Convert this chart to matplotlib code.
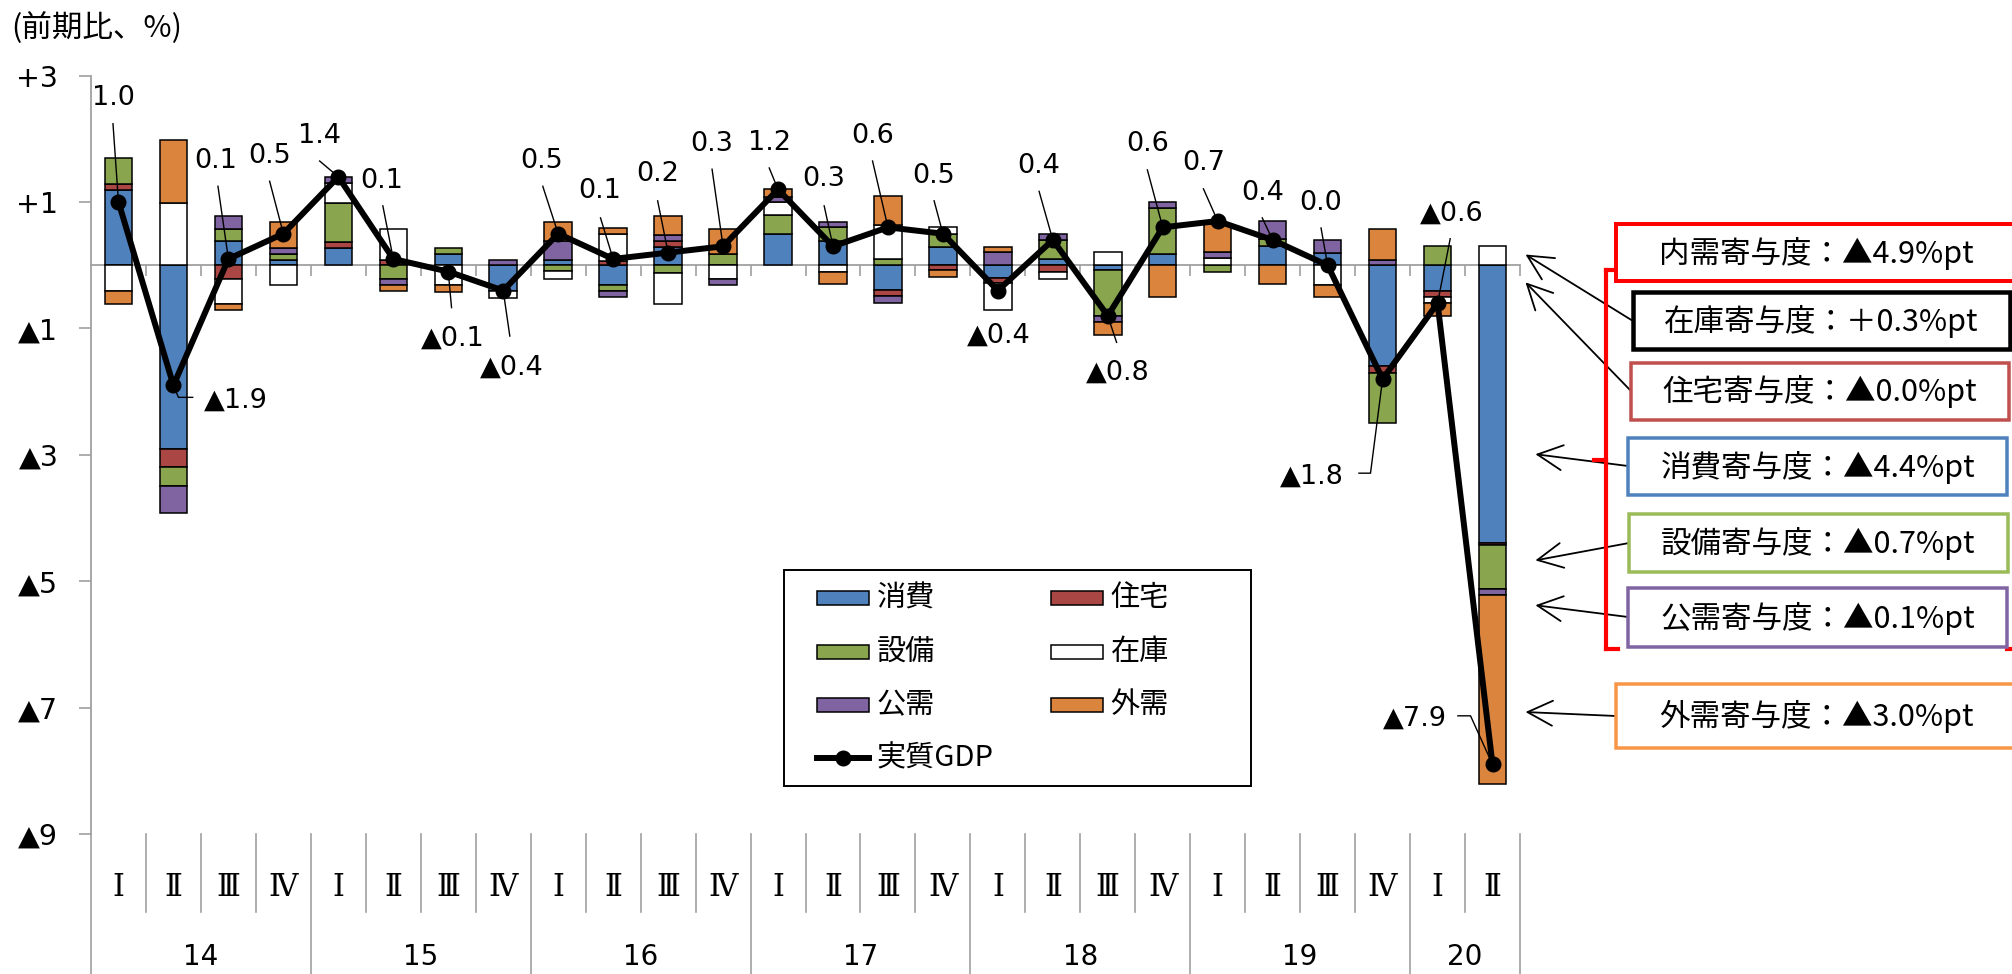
import numpy as np
import matplotlib.pyplot as plt
from matplotlib.patches import Rectangle
from matplotlib.lines import Line2D
from matplotlib.transforms import blended_transform_factory

plt.rcParams['font.family'] = ['DejaVu Sans', 'Noto Sans CJK JP']
JP = ['Noto Sans CJK JP', 'DejaVu Sans']

W, H = 2012, 974

# ---- data (前期比寄与度, %pt) ----
quarter_labels = ['Ⅰ', 'Ⅱ', 'Ⅲ', 'Ⅳ'] * 6 + ['Ⅰ', 'Ⅱ']
years = ['14', '15', '16', '17', '18', '19', '20']
year_quarters = [4, 4, 4, 4, 4, 4, 2]

consumption = [1.19, -2.90, 0.39, 0.09, 0.28, 0.00, 0.18, -0.40, 0.08, -0.31, 0.29, 0.00, 0.49,
               0.39, -0.39, 0.29, -0.20, 0.10, -0.08, 0.18, 0.00, 0.30, 0.19, -1.60, -0.40, -4.40]
housing = [0.09, -0.30, -0.21, 0.00, 0.09, 0.08, 0.00, 0.00, 0.00, 0.06, 0.09, 0.00, 0.00,
           0.00, -0.10, -0.08, -0.08, -0.10, 0.00, 0.00, 0.00, 0.00, 0.00, -0.10, -0.10, -0.02]
capex = [0.41, -0.30, 0.18, 0.09, 0.62, -0.22, 0.10, 0.00, -0.09, -0.09, -0.12, 0.18, 0.30,
         0.21, 0.10, 0.21, 0.00, 0.30, -0.72, 0.73, -0.10, 0.12, 0.00, -0.80, 0.30, -0.70]
inventory = [-0.41, 0.99, -0.41, -0.32, 0.31, 0.50, -0.32, -0.12, -0.13, 0.43, -0.50, -0.22, 0.21,
             -0.10, 0.53, 0.10, -0.42, -0.12, 0.21, 0.00, 0.12, 0.00, -0.32, 0.00, -0.10, 0.30]
public = [0.00, -0.42, 0.21, 0.09, 0.10, -0.09, 0.00, 0.08, 0.30, -0.10, 0.10, -0.09, 0.08,
          0.09, -0.10, 0.00, 0.21, 0.10, -0.10, 0.09, 0.09, 0.28, 0.21, 0.08, 0.00, -0.10]
external = [-0.21, 1.00, -0.09, 0.41, 0.00, -0.10, -0.10, 0.00, 0.30, 0.10, 0.30, 0.40, 0.12,
            -0.20, 0.47, -0.10, 0.08, 0.00, -0.20, -0.50, 0.45, -0.30, -0.18, 0.50, -0.21, -2.99]
gdp = [1.0, -1.9, 0.1, 0.5, 1.4, 0.1, -0.1, -0.4, 0.5, 0.1, 0.2, 0.3, 1.2,
       0.3, 0.6, 0.5, -0.4, 0.4, -0.8, 0.6, 0.7, 0.4, 0.0, -1.8, -0.6, -7.9]

series = [('消費', consumption, '#4F81BD'),
          ('住宅', housing, '#AA4643'),
          ('設備', capex, '#89A54E'),
          ('在庫', inventory, 'white'),
          ('公需', public, '#8064A2'),
          ('外需', external, '#DB843D')]

# 2020Q2 contribution boxes
boxes = [('内需寄与度：▲4.9%pt', '#FF0000'),
         ('在庫寄与度：＋0.3%pt', 'black'),
         ('住宅寄与度：▲0.0%pt', '#C0504D'),
         ('消費寄与度：▲4.4%pt', '#4F81BD'),
         ('設備寄与度：▲0.7%pt', '#9BBB59'),
         ('公需寄与度：▲0.1%pt', '#8064A2'),
         ('外需寄与度：▲3.0%pt', '#F79646')]

# ---- layout ----
# label position (data units) and leader-line points leading to the marker
label_layout = [
    (-0.09, 2.65, 'center', [(-0.10, 2.24)]),
    (1.55, -2.14, 'left', [(1.35, -2.09), (1.09, -2.09)]),
    (1.77, 1.65, 'center', [(1.81, 1.25)]),
    (2.75, 1.73, 'center', [(2.75, 1.33)]),
    (3.66, 2.04, 'center', [(3.66, 1.65)]),
    (4.79, 1.33, 'center', [(4.81, 0.94)]),
    (6.08, -1.16, 'center', [(6.06, -0.67)]),
    (7.16, -1.62, 'center', [(7.12, -1.12)]),
    (7.70, 1.65, 'center', [(7.72, 1.25)]),
    (8.75, 1.17, 'center', [(8.77, 0.75)]),
    (9.81, 1.44, 'center', [(9.81, 1.02)]),
    (10.80, 1.92, 'center', [(10.80, 1.52)]),
    (11.85, 1.94, 'center', [(11.84, 1.54)]),
    (12.84, 1.36, 'center', [(12.84, 0.94)]),
    (13.72, 2.04, 'center', [(13.72, 1.65)]),
    (14.84, 1.41, 'center', [(14.84, 1.02)]),
    (16.01, -1.12, 'center', [(15.99, -0.51)]),
    (16.75, 1.57, 'center', [(16.75, 1.17)]),
    (18.19, -1.70, 'center', [(18.16, -1.22)]),
    (18.72, 1.92, 'center', [(18.72, 1.51)]),
    (19.74, 1.62, 'center', [(19.74, 1.21)]),
    (20.81, 1.15, 'center', [(20.81, 0.75)]),
    (21.88, 0.99, 'center', [(21.88, 0.59)]),
    (22.30, -3.34, 'right', [(22.57, -3.29), (22.78, -3.29)]),
    (24.26, 0.81, 'center', [(24.23, 0.42)]),
    (24.17, -7.18, 'right', [(24.37, -7.13), (24.60, -7.13)]),
]

# box rectangles in pixels (x0, y0, x1, y1, linewidth px), text centre (x, y)
box_geom = [(1616, 224, 2016, 280.5, 4, 1816, 253),
            (1633, 292, 2010, 349, 4.5, 1821, 321),
            (1631, 363, 2009, 420, 3.5, 1820, 391),
            (1628, 438, 2007, 495.5, 3.5, 1818, 467),
            (1629, 514, 2008, 572, 3.5, 1818, 543),
            (1628, 588, 2007, 647, 3.5, 1818, 618),
            (1616, 684, 2016, 748, 3.5, 1816, 716)]
# arrow: box index, head (data), tail (pixels)
arrows = [(1, (25.60, 0.17), (1633, 321)),
          (2, (25.60, -0.27), (1631, 391)),
          (3, (25.78, -2.99), (1628, 466)),
          (4, (25.78, -4.67), (1629, 543)),
          (5, (25.78, -5.38), (1628, 617)),
          (6, (25.60, -7.07), (1616, 716))]


def fxy(x, y):
    return x / W, 1 - y / H


gray = '#A0A0A0'
n = len(gdp)
x = np.arange(n)

fig = plt.figure(figsize=(W / 100, H / 100), dpi=100)
ax = fig.add_axes([91 / W, 1 - 834 / H, (1520 - 91) / W, (834 - 75.7) / H])

# stacked bars, positives up and negatives down
pos_base = np.zeros(n)
neg_base = np.zeros(n)
for name, vals, color in series:
    v = np.array(vals)
    for mask, base in ((v > 0, pos_base), (v < 0, neg_base)):
        ax.bar(x[mask], v[mask], 0.5, bottom=base[mask], color=color,
               edgecolor='black', linewidth=1.1, zorder=3)
    pos_base += np.where(v > 0, v, 0)
    neg_base += np.where(v < 0, v, 0)

ax.plot(x, gdp, color='black', lw=4.3, marker='o', ms=10.5, zorder=5)

# data labels
for i, (tx, ty, ha, pts) in enumerate(label_layout):
    v = gdp[i]
    txt = '▲{:.1f}'.format(-v) if v < 0 else '{:.1f}'.format(v)
    ax.text(tx, ty, txt, ha=ha, va='center', fontsize=19.5, zorder=6)
    px = [p[0] for p in pts] + [i]
    py = [p[1] for p in pts] + [v]
    ax.plot(px, py, color='black', lw=1.0, zorder=4)

ax.set_xlim(-0.5, n - 0.5)
ax.set_ylim(-9, 3)
for s in ['top', 'right']:
    ax.spines[s].set_visible(False)
ax.spines['bottom'].set_position(('data', 0))
ax.spines['bottom'].set_color(gray)
ax.spines['bottom'].set_linewidth(1.3)
ax.spines['left'].set_color(gray)
ax.spines['left'].set_linewidth(1.3)

ax.set_xticks(np.arange(0.5, n + 0.5, 1.0))
ax.tick_params(axis='x', direction='out', length=8, width=1.2, color=gray, labelbottom=False)
yt = [3, 1, -1, -3, -5, -7, -9]
ax.set_yticks(yt)
ax.set_yticklabels(['+{}'.format(v) if v > 0 else '▲{}'.format(-v) for v in yt])
ax.tick_params(axis='y', direction='out', length=8.5, width=1.2, color=gray, pad=15, labelsize=20.5)

# category axis below the plot
trans = blended_transform_factory(ax.transData, fig.transFigure)
year_edges = list(np.cumsum([0] + year_quarters) - 0.5)
for b in np.arange(-0.5, n, 1.0):
    bottom = 0 if b in year_edges else 1 - 912 / H
    ax.plot([b, b], [1 - 834 / H, bottom], color=gray, lw=1.2, transform=trans, clip_on=False)
for i, q in enumerate(quarter_labels):
    ax.text(i, 1 - 887 / H, q, transform=trans, ha='center', va='center', fontsize=22,
            family=['DejaVu Serif', 'Noto Sans CJK JP'])
for k, yr in enumerate(years):
    xc = (year_edges[k] + year_edges[k + 1]) / 2
    ax.text(xc, 1 - 957 / H, yr, transform=trans, ha='center', va='center', fontsize=20)

fig.text(*fxy(11, 28), '(前期比、%)', ha='left', va='center', fontsize=22, family=JP)

# legend (drawn by hand, row-wise order like the original)
fig.add_artist(Rectangle(fxy(784, 785.7), (1250.7 - 784) / W, (785.7 - 570) / H,
                         transform=fig.transFigure, facecolor='white', edgecolor='black', lw=1.4, zorder=7))
for k, (name, vals, color) in enumerate(series):
    row, col = divmod(k, 2)
    lx = 817 + col * 233.7
    ly = 598.3 + row * 53.3
    fig.add_artist(Rectangle(fxy(lx, ly + 7), 52 / W, 14 / H, transform=fig.transFigure,
                             facecolor=color, edgecolor='black', lw=1.1, zorder=8))
    fig.text(*fxy(lx + 59.7, ly), name, ha='left', va='center', fontsize=21, family=JP, zorder=8)
ly = 598.3 + 3 * 53.3
fig.add_artist(Line2D([817 / W, 869 / W], [1 - ly / H] * 2, transform=fig.transFigure,
                      color='black', lw=4.3, zorder=8))
fig.add_artist(Line2D([843 / W], [1 - ly / H], transform=fig.transFigure, color='black',
                      marker='o', ms=10.5, zorder=8))
fig.text(*fxy(876.7, ly), '実質GDP', ha='left', va='center', fontsize=21, family=JP, zorder=8)

# red bracket grouping domestic demand
for xs, ys in [([1606, 1606], [270, 648.5]), ([1606, 1618], [270, 270]), ([1606, 1618], [648.5, 648.5]),
               ([1594, 1606], [460, 460]), ([2007, 2014], [270, 270]), ([2007, 2014], [648.5, 648.5])]:
    fig.add_artist(Line2D([v / W for v in xs], [1 - v / H for v in ys], transform=fig.transFigure,
                          color='#FF0000', lw=3, zorder=6))

# arrows from boxes to the 2020Q2 bar
for bi, head, tail in arrows:
    ax.annotate('', xy=head, xycoords='data', xytext=fxy(*tail), textcoords='figure fraction',
                arrowprops=dict(arrowstyle='->,head_length=0.9,head_width=0.45', color='black',
                                lw=1.3, mutation_scale=20, shrinkA=0, shrinkB=0),
                annotation_clip=False, zorder=6)

for (label, color), (x0, y0, x1, y1, lw, tx, ty) in zip(boxes, box_geom):
    fig.add_artist(Rectangle(fxy(x0, y1), (x1 - x0) / W, (y1 - y0) / H, transform=fig.transFigure,
                             facecolor='white', edgecolor=color, lw=lw * 0.72, zorder=9))
    fig.text(*fxy(tx, ty), label, ha='center', va='center', fontsize=22, family=JP, zorder=10)

fig.savefig('out.png', dpi=100)
